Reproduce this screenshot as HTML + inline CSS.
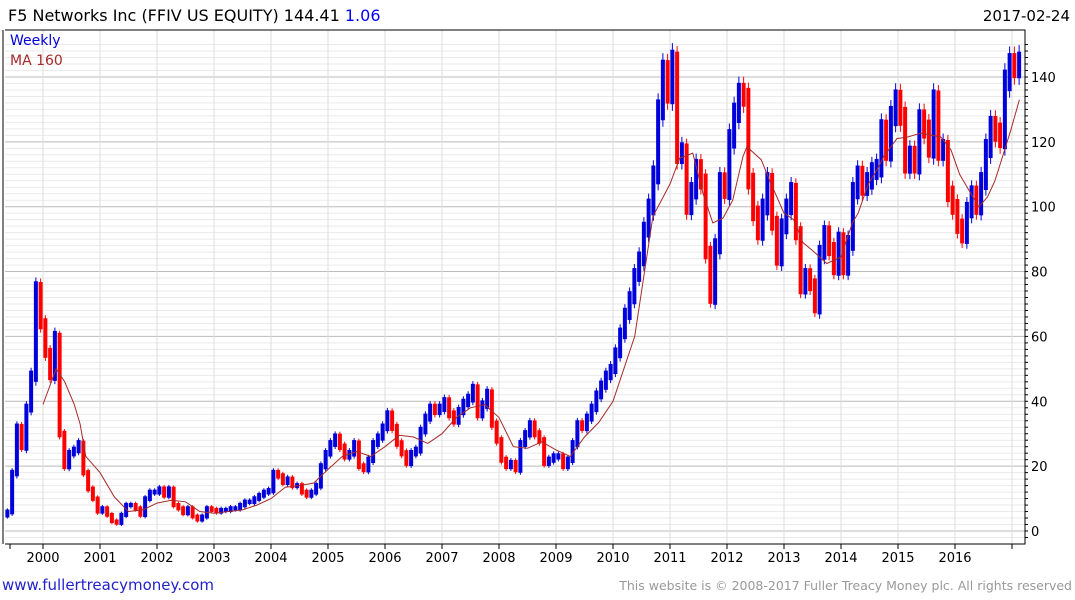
<!DOCTYPE html>
<html><head><meta charset="utf-8"><style>
html,body{margin:0;padding:0;background:#fff;}
svg{display:block;font-family:"DejaVu Sans","Liberation Sans",sans-serif;}
</style></head><body>
<svg id="chart" width="1075" height="600" xmlns="http://www.w3.org/2000/svg">
<text x="8" y="21" font-size="16" fill="#000">F5 Networks Inc (FFIV US EQUITY) 144.41 <tspan fill="#0000ff">1.06</tspan></text>
<text x="1070" y="21" font-size="15" fill="#000" text-anchor="end">2017-02-24</text>
<g id="grid"></g>
<g id="bars"></g>
<polyline id="ma" fill="none" stroke="#a52a2a" stroke-width="1"/>
<g id="axes"></g>
<text x="10" y="45" font-size="14" fill="#0000dd">Weekly</text>
<text x="10" y="65" font-size="14" fill="#a52a2a">MA 160</text>
<text x="2" y="590" font-size="15" fill="#2222cc">www.fullertreacymoney.com</text>
<text x="1072" y="590" font-size="12.5" fill="#999" text-anchor="end">This website is © 2008-2017 Fuller Treacy Money plc. All rights reserved</text>
</svg>
<script>
// monthly closes starting May 1999
const closes = [
6,18,32,26,38,48,75,64,
55,48,60,30,20,24,25,27,18,13,10,6,
7,5,3,2.5,5,8,8,7,5,10,12,12,
13,11,13,8,7,5.5,7,4.5,3.5,4.5,7,6.5,
6,6.5,6.5,7,7,8,9,9,10,11,12,12.5,
18,17,15,16,14,14,12,11,12,14,20,24,
27,29,26,23,24,27,20,19,22,27,29,32,
36,32,27,24,21,24,25,31,35,38,37,38,
40,36,34,37,39.5,41,44,36,39,42.5,33,28,
22,20,21,19,27,30,33,30,28,21,22,23,
23,20,22,27,33,32,35,38,42,45,48,50,
55,61,67,72,79,84,93,100,110,130,142,135,
145,116,117,100,105,112,108,86,72,88,108,105,
121,129,135,134,108,98,92,100,108,95,84,94,
100,105,92,75,79,76,69,86,92,87,81,90,
81,89,105,110,106,108,111,112,124,117,128,133,
128,113,116,113,127,124,118,133,117,118,104,100,
94,91,99,104,100,108,118,125,123,121,139,144,
143,144.41
];
const maDates = [2000.0,2000.23,2000.38,2000.55,2000.65,2000.75,2001.0,2001.25,2001.5,2001.75,2002.0,2002.25,2002.5,2002.75,2003.0,2003.25,2003.5,2003.75,2004.0,2004.25,2004.5,2004.75,2005.0,2005.25,2005.5,2005.75,2006.0,2006.25,2006.5,2006.75,2007.0,2007.25,2007.5,2007.75,2008.0,2008.25,2008.5,2008.75,2009.0,2009.25,2009.5,2009.75,2010.0,2010.38,2010.55,2010.7,2011.0,2011.17,2011.4,2011.58,2011.75,2011.93,2012.1,2012.28,2012.35,2012.6,2012.75,2013.0,2013.17,2013.33,2013.5,2013.75,2014.0,2014.2,2014.3,2014.48,2014.65,2014.75,2014.98,2015.17,2015.4,2015.75,2015.93,2016.08,2016.28,2016.42,2016.57,2016.7,2016.8,2016.98,2017.13];
const maValues = [39,50,46,39,33,23,18,10.5,6,6.5,8.6,9.5,9,6,5.5,6,6.5,8,10,13.5,14,14.8,19,23,24.5,23,26,29.5,29,27,30,35,38,39,35,26,25.5,27.5,25,23,29,33.5,40,60,79.5,97,107,115,116.5,104,95,96.5,102,115.5,118.5,114.5,108,98,96,89,86.5,82.5,84.5,95,98,107,112,115.5,121,121.5,122.7,121.5,117.5,110,104,100,103,108,113.5,123.7,133];
const yTicks = [0,20,40,60,80,100,120,140];
const years = [2000,2001,2002,2003,2004,2005,2006,2007,2008,2009,2010,2011,2012,2013,2014,2015,2016];

const NS="http://www.w3.org/2000/svg";
const L=5,R=1025,T=30,B=544;
function xOf(t){return 43+(t-2000)*57;}
function yOf(v){return 531-v*3.243;}
function mk(tag,attrs,parent){const e=document.createElementNS(NS,tag);for(const k in attrs)e.setAttribute(k,attrs[k]);parent.appendChild(e);return e;}
const grid=document.getElementById('grid'),bars=document.getElementById('bars'),axes=document.getElementById('axes');
for(let v=-2;v<=150;v+=2){const y=yOf(v);if(y<T||y>B)continue;
 const ln=mk('line',{x1:L,x2:R,y1:y,y2:y,stroke:(v%20===0)?'#bbbbbb':'#eaeaea','stroke-width':1},grid);
 
 
 const tk=mk('line',{x1:R,x2:R+3,y1:y,y2:y,stroke:'#000','stroke-width':1},axes);
 
 
}
for(const v of yTicks){
 const t=mk('text',{x:R+6,y:yOf(v)+5,'font-size':13,fill:'#000'},axes);t.textContent=v;
 
 
}
for(const yr of years.concat([2017])){
 const x=xOf(yr);
 const g=mk('line',{x1:x,x2:x,y1:T,y2:B,stroke:'#dddddd','stroke-width':1},grid);
 
 
 const tk=mk('line',{x1:x,x2:x,y1:B,y2:B+5,stroke:'#000'},axes);
 
 
}
{const tk=mk('line',{x1:10,x2:10,y1:B,y2:B+5,stroke:'#000'},axes);
 
 }
for(const yr of years){
 const t=mk('text',{x:xOf(yr),y:562,'font-size':13,'text-anchor':'middle',fill:'#000'},axes);t.textContent=yr;
 
 
}
const fr=mk('path',{d:`M${L} ${T} H${R} V${B} H${L}`,fill:'none',stroke:'#000','stroke-width':1},axes);


const lf=mk('line',{x1:L-2,x2:L-2,y1:T,y2:B,stroke:'#000'},axes);


for(let i=0;i<closes.length;i++){
 const t=1999+(4+i+0.5)/12;
 const prev=i>0?closes[i-1]:closes[i]*0.8;
 const c=closes[i];
 const pad=0.5+c*0.02;
 const hi=Math.max(prev,c)+pad, lo=Math.min(prev,c)-pad;
 const col=c>=prev?'#0000dd':'#ff0000';
 const x=xOf(t);
 const w=mk('line',{x1:x,x2:x,y1:yOf(hi+pad*0.6),y2:yOf(Math.max(0.5,lo-pad*0.6)),stroke:col,'stroke-width':1},bars);
 
 
 const b=mk('rect',{x:x-2,y:yOf(hi),width:4,height:Math.max(1,yOf(Math.max(0.5,lo))-yOf(hi)),fill:col},bars);
 
 
}
document.getElementById('ma').setAttribute('points',maDates.map((d,i)=>xOf(d).toFixed(1)+','+yOf(maValues[i]).toFixed(1)).join(' '));
</script>
</body></html>
